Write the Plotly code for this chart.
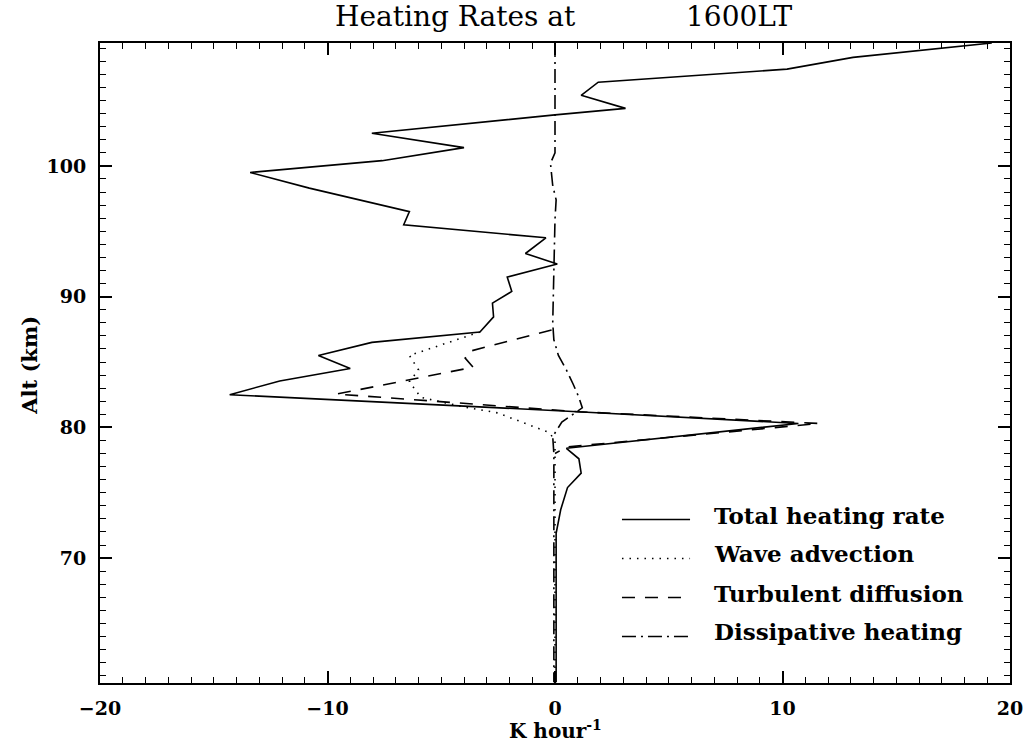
import plotly.graph_objects as go

# Total heating rate profile (K/hour vs altitude km)
total_alt = [109.4, 108.3, 107.4, 106.4, 105.4, 104.4, 103.9, 102.5, 101.4, 100.4,
             99.5, 98.3, 96.5, 95.5, 94.5, 93.3, 92.5, 91.5, 90.4, 89.5,
             88.45, 87.3, 86.5, 85.5, 84.5, 83.55, 82.5, 81.2, 80.3, 78.4,
             77.6, 76.5, 75.4, 73.7, 71.9, 60.5]
total_val = [19.2, 13.1, 10.2, 1.9, 1.15, 3.1, 0.0, -8.05, -4.0, -7.6,
             -13.4, -10.8, -6.4, -6.65, -0.4, -1.3, 0.1, -2.1, -1.9, -2.75,
             -2.7, -3.3, -8.05, -10.4, -9.0, -12.1, -14.3, 1.0, 10.7, 0.5,
             1.05, 1.15, 0.55, 0.25, 0.05, 0.05]

# Wave advection
wave_alt = [87.3, 85.5, 84.4, 83.5, 82.3, 81.6, 81.1, 79.6, 79.0, 60.5]
wave_val = [-3.3, -6.4, -6.0, -6.4, -5.9, -4.1, -2.5, -0.25, 0.0, 0.0]

# Turbulent diffusion
turb_alt = [87.45, 85.8, 85.3, 84.6, 82.55, 81.2, 80.3, 78.5, 78.0]
turb_val = [-0.15, -3.8, -3.95, -3.6, -9.6, 1.0, 11.6, 0.5, 0.0]

# Dissipative heating
diss_alt = [109.4, 101.0, 100.2, 98.5, 97.4, 95.9, 88.0, 86.7, 85.5, 84.4,
            83.3, 82.3, 81.5, 80.4, 79.3, 78.0, 60.5]
diss_val = [0.0, 0.0, -0.2, -0.1, 0.05, 0.0, -0.1, -0.05, 0.15, 0.5,
            0.8, 1.05, 1.2, 0.3, -0.1, -0.05, -0.05]

series_names = ["Total heating rate", "Wave advection", "Turbulent diffusion", "Dissipative heating"]
x_ticks = [-20, -10, 0, 10, 20]
y_ticks = [70, 80, 90, 100]

DOT = "1.5px,6px"
DASH = "13px,10px"
DASHDOT = "14px,5px,2px,5px"
styles = [("solid", 1.6), (DOT, 1.6), (DASH, 1.6), (DASHDOT, 1.6)]

fig = go.Figure()
data = [(total_val, total_alt), (wave_val, wave_alt), (turb_val, turb_alt), (diss_val, diss_alt)]
for (xs, ys), (dash, w), name in zip(data, styles, series_names):
    fig.add_trace(go.Scatter(x=xs, y=ys, mode="lines", name=name,
                             line=dict(color="black", width=w, dash=dash),
                             showlegend=False, hoverinfo="skip"))

SERIF = "DejaVu Serif"

# hand-built legend in the lower right
row_y = [0.2625, 0.2016, 0.1406, 0.0797]
for (dash, w), name, yp in zip(styles, series_names, row_y):
    fig.add_trace(go.Scatter(x=[0.5736, 0.6484], y=[yp - 0.007, yp - 0.007], xaxis="x2", yaxis="y2",
                             mode="lines", line=dict(color="black", width=w, dash=dash),
                             showlegend=False, hoverinfo="skip"))
    fig.add_annotation(x=0.6725, y=yp, xref="paper", yref="paper", text="<b>%s</b>" % name,
                       showarrow=False, xanchor="left", yanchor="middle",
                       font=dict(family=SERIF, size=23, color="black"))

# title, in two pieces with a wide gap between them
fig.add_annotation(x=0.2563, y=1.041, xref="paper", yref="paper", text="Heating Rates at",
                   showarrow=False, xanchor="left", yanchor="middle",
                   font=dict(family=SERIF, size=28, color="black"))
fig.add_annotation(x=0.6414, y=1.041, xref="paper", yref="paper", text="1600LT",
                   showarrow=False, xanchor="left", yanchor="middle",
                   font=dict(family=SERIF, size=28, color="black"))

# axis titles
fig.add_annotation(x=0.5, y=-0.0735, xref="paper", yref="paper", text="<b>K hour<sup>-1</sup></b>",
                   showarrow=False, xanchor="center", yanchor="middle",
                   font=dict(family=SERIF, size=20, color="black"))
fig.add_annotation(x=-0.077, y=0.497, xref="paper", yref="paper", text="<b>Alt (km)</b>",
                   showarrow=False, xanchor="center", yanchor="middle", textangle=-90,
                   font=dict(family=SERIF, size=21, color="black"))

axis_common = dict(showgrid=False, zeroline=False, showline=True, linecolor="black", linewidth=2,
                   mirror="ticks", ticks="inside", ticklen=12, tickwidth=1.5, tickcolor="black",
                   automargin=False,
                   tickfont=dict(family=SERIF, size=19, color="black", weight="bold"))

fig.update_layout(
    width=1024, height=745,
    margin=dict(l=100, r=14, t=43, b=62),
    paper_bgcolor="white", plot_bgcolor="white",
    xaxis=dict(range=[-20, 20], tickvals=x_ticks, ticktext=["\u221220", "\u221210", "0", "10", "20"],
               minor=dict(dtick=1, ticklen=6, ticks="inside", tickcolor="black", tickwidth=1.2),
               ticklabelstandoff=7, **axis_common),
    yaxis=dict(range=[60.45, 109.4], tickvals=y_ticks,
               minor=dict(dtick=1, tick0=60, ticklen=6, ticks="inside", tickcolor="black", tickwidth=1.2),
               ticklabelstandoff=8, **axis_common),
    xaxis2=dict(range=[0, 1], domain=[0, 1], visible=False, overlaying="x"),
    yaxis2=dict(range=[0, 1], domain=[0, 1], visible=False, overlaying="y"),
)

fig.write_html("out.html")
